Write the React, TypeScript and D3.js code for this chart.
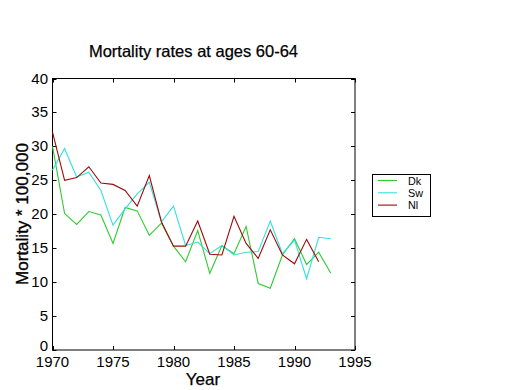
import React, { useEffect, useRef } from "react";
import * as d3 from "d3";

const years = d3.range(1970, 1994);
const dk = [30.0, 20.1, 18.5, 20.4, 19.9, 15.7, 21.0, 20.5, 16.9, 18.7, 15.3, 13.0, 17.6, 11.3, 15.4, 14.2, 18.2, 9.8, 9.1, 14.0, 16.4, 12.6, 14.4, 11.3];
const sw = [26.5, 29.7, 25.5, 26.2, 23.5, 18.4, 20.8, 23.0, 24.7, 18.9, 21.2, 15.4, 15.9, 14.2, 15.4, 14.0, 14.4, 14.5, 19.0, 14.2, 16.2, 10.5, 16.6, 16.4];
const nl = [32.1, 25.0, 25.4, 27.0, 24.6, 24.4, 23.5, 21.2, 25.7, 18.9, 15.3, 15.3, 19.0, 14.1, 14.0, 19.7, 15.7, 13.5, 17.7, 14.0, 12.7, 16.3, 13.0];
const seriesNames = ["Dk", "Sw", "Nl"];
const seriesColors = ["#2ecc2e", "#33e0e0", "#a00a0a"];
const xTicks = [1970, 1975, 1980, 1985, 1990, 1995];
const yTicks = [0, 5, 10, 15, 20, 25, 30, 35, 40];
const title = "Mortality rates at ages 60-64";
const xLabel = "Year";
const yLabel = "Mortality * 100,000";

export default function App() {
  const ref = useRef<SVGSVGElement>(null);
  useEffect(() => {
    const svg = d3.select(ref.current);
    svg.selectAll("*").remove();
    const left = 52.5, right = 355, top = 78.5, bottom = 350;
    const x = d3.scaleLinear().domain([1970, 1995]).range([left, right]);
    const y = d3.scaleLinear().domain([0, 40]).range([bottom, top]);
    const font = "'Liberation Sans', Arial, sans-serif";

    svg.append("rect").attr("width", 520).attr("height", 390).attr("fill", "#fff");

    svg.append("rect").attr("x", left).attr("y", top).attr("width", right - left).attr("height", bottom - top)
      .attr("fill", "none").attr("stroke", "#000").attr("stroke-width", 1);

    const tl = 4;
    const g = svg.append("g");
    xTicks.forEach(t => {
      const xx = Math.round(x(t)) + 0.5;
      g.append("line").attr("x1", xx).attr("x2", xx).attr("y1", bottom).attr("y2", bottom - tl).attr("stroke", "#000");
      g.append("line").attr("x1", xx).attr("x2", xx).attr("y1", top).attr("y2", top + tl).attr("stroke", "#000");
      g.append("text").attr("x", x(t)).attr("y", 367).attr("text-anchor", "middle")
        .attr("font-family", font).attr("font-size", 15).text(String(t));
    });
    yTicks.forEach(t => {
      const yy = Math.round(y(t)) + 0.5;
      g.append("line").attr("x1", left).attr("x2", left + tl).attr("y1", yy).attr("y2", yy).attr("stroke", "#000");
      g.append("line").attr("x1", right).attr("x2", right - tl).attr("y1", yy).attr("y2", yy).attr("stroke", "#000");
      g.append("text").attr("x", 48).attr("y", Math.min(y(t) + 5, 351)).attr("text-anchor", "end")
        .attr("font-family", font).attr("font-size", 15).text(String(t));
    });

    const line = d3.line<number>().x((_, i) => x(years[i])).y(v => y(v));
    [dk, sw, nl].forEach((s, i) => {
      svg.append("path").attr("d", line(s) as string).attr("fill", "none")
        .attr("stroke", seriesColors[i]).attr("stroke-width", 1.1);
    });

    svg.append("text").attr("x", 193.5).attr("y", 57).attr("text-anchor", "middle")
      .attr("font-family", font).attr("font-size", 16.5).attr("stroke", "#000").attr("stroke-width", 0.25).text(title);
    svg.append("text").attr("x", 203).attr("y", 385).attr("text-anchor", "middle")
      .attr("font-family", font).attr("font-size", 17).attr("stroke", "#000").attr("stroke-width", 0.25).text(xLabel);
    svg.append("text").attr("transform", "translate(28,214) rotate(-90)").attr("text-anchor", "middle")
      .attr("font-family", font).attr("font-size", 17).attr("stroke", "#000").attr("stroke-width", 0.35).text(yLabel);

    const lg = svg.append("g");
    lg.append("rect").attr("x", 372.5).attr("y", 174.5).attr("width", 58).attr("height", 42)
      .attr("fill", "#fff").attr("stroke", "#000");
    seriesNames.forEach((n, i) => {
      const ly = 180.5 + i * 12.3;
      lg.append("line").attr("x1", 378).attr("x2", 397).attr("y1", ly).attr("y2", ly)
        .attr("stroke", seriesColors[i]).attr("stroke-width", 1.1);
      lg.append("text").attr("x", 408).attr("y", ly + 4).attr("font-family", font)
        .attr("font-size", 10.8).text(n);
    });
  }, []);
  return <svg ref={ref} width={520} height={390} style={{ position: "absolute", left: 0, top: 0 }} />;
}
